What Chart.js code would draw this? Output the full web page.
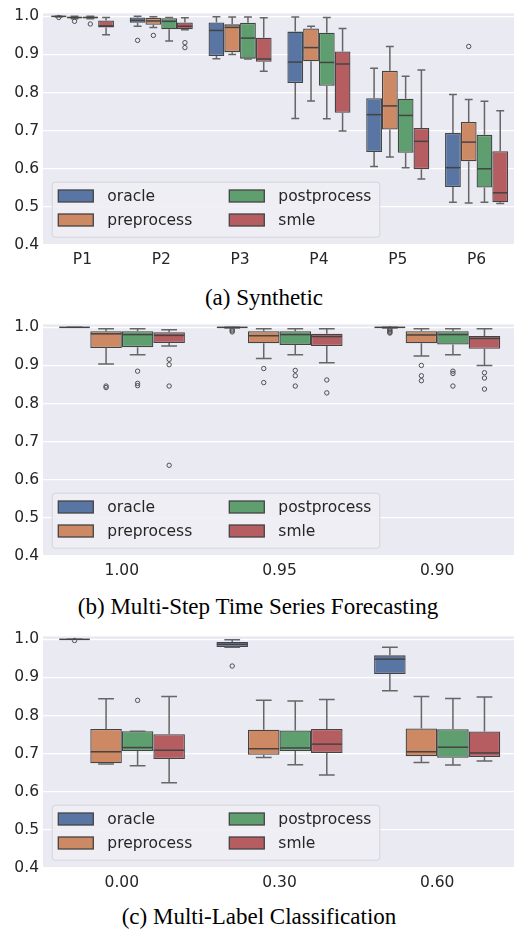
<!DOCTYPE html>
<html><head><meta charset="utf-8">
<script src="https://cdn.jsdelivr.net/npm/chart.js@4.4.1/dist/chart.umd.min.js"></script>
<style>
html,body{margin:0;padding:0;background:#fff;overflow:hidden;width:514px;height:935px;}
.panel{position:absolute;left:0;width:516px;height:275px;}
.cap{position:absolute;width:514px;text-align:center;font-family:"Liberation Serif","Times New Roman",serif;font-size:23px;line-height:23px;color:#000;white-space:nowrap;}
</style></head><body>
<div class="panel" style="top:0px"><canvas id="c1" width="516" height="275"></canvas></div>
<div class="cap" style="top:286px;left:7px">(a) Synthetic</div>
<div class="panel" style="top:311px"><canvas id="c2" width="516" height="275"></canvas></div>
<div class="cap" style="top:595px;left:1px">(b) Multi-Step Time Series Forecasting</div>
<div class="panel" style="top:623px"><canvas id="c3" width="516" height="275"></canvas></div>
<div class="cap" style="top:905px;left:2px">(c) Multi-Label Classification</div>
<script>
// ---------- data ----------
const seriesNames = ['oracle', 'preprocess', 'postprocess', 'smle'];
const yTicks = [0.4, 0.5, 0.6, 0.7, 0.8, 0.9, 1.0];

// each box: [whiskerLow, q1, median, q3, whiskerHigh]
const synthCategories = ['P1', 'P2', 'P3', 'P4', 'P5', 'P6'];
const synthOracle = [[0.998,0.999,1.0,1.0,1.0],[0.974,0.983,0.989,0.997,1.0],[0.889,0.896,0.963,0.984,0.999],[0.732,0.825,0.880,0.960,0.998],[0.606,0.644,0.742,0.785,0.864],[0.512,0.552,0.603,0.694,0.795]];
const synthOracleOut = [[0.997],[0.937],[],[],[],[]];
const synthPre = [[0.994,0.995,0.997,0.999,1.0],[0.971,0.978,0.988,0.996,0.999],[0.900,0.906,0.971,0.979,0.998],[0.778,0.882,0.918,0.968,0.974],[0.631,0.703,0.765,0.857,0.921],[0.510,0.620,0.670,0.723,0.782]];
const synthPreOut = [[0.987],[0.950],[],[],[],[0.921]];
const synthPost = [[0.994,0.995,0.997,0.999,1.0],[0.935,0.966,0.987,0.995,0.997],[0.888,0.889,0.943,0.983,0.998],[0.731,0.818,0.879,0.957,0.997],[0.603,0.642,0.740,0.784,0.843],[0.512,0.551,0.600,0.689,0.777]];
const synthPostOut = [[0.980],[],[],[],[],[]];
const synthSmle = [[0.952,0.971,0.975,0.989,0.997],[0.965,0.966,0.974,0.984,0.996],[0.856,0.881,0.888,0.944,0.996],[0.699,0.747,0.875,0.908,0.968],[0.573,0.599,0.672,0.707,0.859],[0.509,0.512,0.537,0.646,0.752]];
const synthSmleOut = [[],[0.931,0.918],[],[],[],[]];

const fcCategories = ['1.00', '0.95', '0.90'];
const fcOracle = [[1.0,1.0,1.0,1.0,1.0],[0.998,0.999,1.0,1.0,1.0],[0.998,0.999,1.0,1.0,1.0]];
const fcOracleOut = [[],[0.995,0.991,0.988],[0.996,0.993,0.990,0.987,0.985]];
const fcPre = [[0.904,0.946,0.983,0.990,0.996],[0.918,0.958,0.978,0.990,0.996],[0.925,0.958,0.980,0.990,0.996]];
const fcPreOut = [[0.846,0.842],[0.892,0.855],[0.900,0.873,0.860]];
const fcPost = [[0.928,0.948,0.981,0.990,0.996],[0.928,0.954,0.981,0.990,0.996],[0.928,0.955,0.981,0.990,0.996]];
const fcPostOut = [[0.885,0.853,0.847],[0.887,0.873,0.846],[0.885,0.879,0.846]];
const fcSmle = [[0.951,0.959,0.979,0.987,0.994],[0.907,0.951,0.976,0.983,0.996],[0.900,0.944,0.971,0.977,0.996]];
const fcSmleOut = [[0.916,0.902,0.846,0.638],[0.862,0.828],[0.881,0.867,0.838]];

const mlCategories = ['0.00', '0.30', '0.60'];
const mlOracle = [[1.0,1.0,1.0,1.0,1.0],[0.979,0.980,0.987,0.993,0.999],[0.865,0.909,0.948,0.958,0.979]];
const mlOracleOut = [[0.997],[0.930],[]];
const mlPre = [[0.673,0.675,0.705,0.765,0.844],[0.690,0.697,0.713,0.763,0.840],[0.677,0.693,0.705,0.766,0.850]];
const mlPreOut = [[],[],[]];
const mlPost = [[0.668,0.707,0.716,0.759,0.759],[0.671,0.707,0.715,0.761,0.838],[0.670,0.689,0.717,0.764,0.845]];
const mlPostOut = [[0.840],[],[]];
const mlSmle = [[0.624,0.686,0.709,0.751,0.850],[0.644,0.702,0.725,0.765,0.842],[0.681,0.691,0.702,0.758,0.849]];
const mlSmleOut = [[],[],[]];

// ---------- style ----------
const boxColors = ['#5875A4', '#CC8963', '#5F9E6E', '#B55D60'];
const edgeColor = '#444444';
const whiskerColor = '#666666';
const textColor = '#262626';
const tickFont = {family: 'DejaVu Sans', size: 15.5};

const bgPlugin = {
  id: 'bg',
  beforeDraw(chart) {
    const {ctx, chartArea: a} = chart;
    ctx.save();
    ctx.fillStyle = '#EAEAF2';
    ctx.fillRect(a.left, a.top, a.right - a.left, a.bottom - a.top);
    ctx.restore();
  }
};

const boxPlugin = {
  id: 'boxparts',
  afterDatasetsDraw(chart) {
    const ctx = chart.ctx, ys = chart.scales.y;
    chart.data.datasets.forEach((ds, di) => {
      const meta = chart.getDatasetMeta(di);
      meta.data.forEach((bar, i) => {
        const s = ds.stats[i];
        const x = bar.x, w = bar.width;
        const p = s.map(v => ys.getPixelForValue(v));
        ctx.save();
        ctx.strokeStyle = whiskerColor;
        ctx.lineWidth = 1.5;
        ctx.beginPath();
        ctx.moveTo(x, p[1]); ctx.lineTo(x, p[0]);
        ctx.moveTo(x - w / 4, p[0]); ctx.lineTo(x + w / 4, p[0]);
        ctx.moveTo(x, p[3]); ctx.lineTo(x, p[4]);
        ctx.moveTo(x - w / 4, p[4]); ctx.lineTo(x + w / 4, p[4]);
        ctx.stroke();
        ctx.strokeStyle = edgeColor;
        ctx.beginPath();
        ctx.moveTo(x - w / 2 + 0.5, p[2]); ctx.lineTo(x + w / 2 - 0.5, p[2]);
        ctx.stroke();
        ctx.strokeStyle = '#505050';
        ctx.lineWidth = 1;
        ds.outliers[i].forEach(v => {
          ctx.beginPath();
          ctx.arc(x, ys.getPixelForValue(v), 2.2, 0, Math.PI * 2);
          ctx.stroke();
        });
        ctx.restore();
      });
    });
  }
};

const legendPlugin = {
  id: 'boxlegend',
  afterDraw(chart) {
    const ctx = chart.ctx, a = chart.chartArea;
    const L = a.left + 8.7, H = 55, W = 327.6, T = a.bottom - 8.3 - H;
    ctx.save();
    ctx.fillStyle = 'rgba(238,238,244,0.9)';
    ctx.strokeStyle = '#d4d4da';
    ctx.lineWidth = 1;
    ctx.beginPath();
    ctx.roundRect(L + 0.5, T + 0.5, W, H, 3);
    ctx.fill(); ctx.stroke();
    const cols = [[6.6, 55.6], [177.6, 226.6]];
    const rows = [14.3, 38.3];
    ctx.font = '15.5px "DejaVu Sans"';
    ctx.textBaseline = 'middle';
    ctx.fillStyle = textColor;
    seriesNames.forEach((name, k) => {
      const c = Math.floor(k / 2), r = k % 2;
      const sx = L + cols[c][0], sy = T + rows[r];
      ctx.fillStyle = boxColors[k];
      ctx.fillRect(sx, sy - 6, 35, 12);
      ctx.strokeStyle = edgeColor;
      ctx.lineWidth = 1.3;
      ctx.strokeRect(sx, sy - 6, 35, 12);
      ctx.fillStyle = textColor;
      ctx.fillText(name, L + cols[c][1], sy + 1);
    });
    ctx.restore();
  }
};

function makeChart(id, cats, stats, outs) {
  return new Chart(document.getElementById(id), {
    type: 'bar',
    data: {
      labels: cats,
      datasets: seriesNames.map((name, k) => ({
        label: name,
        data: stats[k].map(s => [s[1], s[3]]),
        stats: stats[k],
        outliers: outs[k],
        backgroundColor: boxColors[k],
        borderColor: edgeColor,
        borderWidth: 1.3,
        borderSkipped: false,
        categoryPercentage: 0.8,
        barPercentage: 1.0
      }))
    },
    options: {
      responsive: false,
      animation: false,
      devicePixelRatio: 1,
      layout: {padding: {top: 11, left: 0, right: 0, bottom: 0}},
      plugins: {legend: {display: false}, tooltip: {enabled: false}},
      scales: {
        x: {
          grid: {display: false},
          border: {display: false},
          ticks: {font: tickFont, color: textColor, padding: -2},
          afterFit: s => { s.height = 30; }
        },
        y: {
          min: 0.4, max: 1.008,
          grid: {color: '#ffffff', lineWidth: 1.3, drawTicks: false},
          border: {display: false},
          ticks: {font: tickFont, color: textColor, padding: 4, callback: v => Number(v).toFixed(1)},
          afterBuildTicks: s => { s.ticks = yTicks.map(v => ({value: v})); },
          afterFit: s => { s.width = 43; }
        }
      }
    },
    plugins: [bgPlugin, boxPlugin, legendPlugin]
  });
}

makeChart('c1', synthCategories,
  [synthOracle, synthPre, synthPost, synthSmle],
  [synthOracleOut, synthPreOut, synthPostOut, synthSmleOut]);
makeChart('c2', fcCategories,
  [fcOracle, fcPre, fcPost, fcSmle],
  [fcOracleOut, fcPreOut, fcPostOut, fcSmleOut]);
makeChart('c3', mlCategories,
  [mlOracle, mlPre, mlPost, mlSmle],
  [mlOracleOut, mlPreOut, mlPostOut, mlSmleOut]);
</script>
</body></html>
